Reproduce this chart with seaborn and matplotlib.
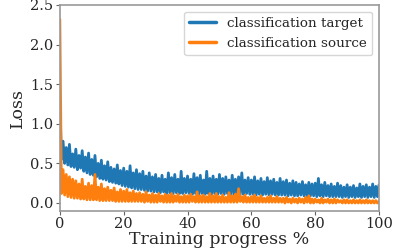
import matplotlib
matplotlib.use("Agg")
import matplotlib.pyplot as plt
import numpy as np
import pandas as pd
import seaborn as sns

# loss values, one every 0.5 % of training
target_loss = [
    1.30, 0.55, 0.78, 0.50, 0.70, 0.48, 0.74, 0.46, 0.62, 0.45,
    0.68, 0.42, 0.60, 0.44, 0.66, 0.40, 0.58, 0.38, 0.63, 0.36,
    0.55, 0.35, 0.60, 0.33, 0.50, 0.31, 0.54, 0.30, 0.47, 0.29,
    0.52, 0.27, 0.45, 0.26, 0.43, 0.25, 0.48, 0.24, 0.41, 0.22,
    0.44, 0.21, 0.40, 0.20, 0.47, 0.19, 0.38, 0.18, 0.42, 0.17,
    0.37, 0.17, 0.40, 0.16, 0.34, 0.15, 0.38, 0.15, 0.33, 0.14,
    0.36, 0.14, 0.31, 0.13, 0.35, 0.14, 0.30, 0.12, 0.38, 0.13,
    0.32, 0.12, 0.36, 0.13, 0.30, 0.12, 0.40, 0.12, 0.31, 0.13,
    0.34, 0.12, 0.30, 0.11, 0.37, 0.12, 0.32, 0.11, 0.35, 0.12,
    0.29, 0.11, 0.40, 0.12, 0.31, 0.11, 0.34, 0.12, 0.30, 0.11,
    0.36, 0.12, 0.31, 0.11, 0.33, 0.12, 0.29, 0.11, 0.35, 0.11,
    0.30, 0.12, 0.33, 0.11, 0.38, 0.11, 0.29, 0.12, 0.32, 0.11,
    0.29, 0.11, 0.33, 0.10, 0.28, 0.11, 0.31, 0.10, 0.27, 0.11,
    0.32, 0.10, 0.28, 0.11, 0.30, 0.10, 0.26, 0.10, 0.31, 0.10,
    0.27, 0.10, 0.29, 0.09, 0.25, 0.10, 0.28, 0.09, 0.26, 0.09,
    0.24, 0.10, 0.27, 0.09, 0.23, 0.09, 0.26, 0.09, 0.24, 0.09,
    0.25, 0.08, 0.31, 0.09, 0.23, 0.08, 0.26, 0.09, 0.22, 0.08,
    0.24, 0.08, 0.21, 0.08, 0.25, 0.08, 0.22, 0.07, 0.20, 0.08,
    0.23, 0.07, 0.20, 0.08, 0.22, 0.07, 0.19, 0.08, 0.24, 0.07,
    0.21, 0.08, 0.23, 0.07, 0.20, 0.08, 0.24, 0.07, 0.21, 0.08,
    0.23,
]

source_loss = [
    2.32, 0.12, 0.42, 0.10, 0.36, 0.08, 0.33, 0.07, 0.30, 0.06,
    0.28, 0.06, 0.24, 0.05, 0.30, 0.05, 0.21, 0.04, 0.25, 0.04,
    0.22, 0.04, 0.36, 0.04, 0.20, 0.03, 0.24, 0.03, 0.18, 0.03,
    0.20, 0.03, 0.16, 0.03, 0.19, 0.02, 0.14, 0.02, 0.17, 0.02,
    0.15, 0.02, 0.17, 0.02, 0.13, 0.02, 0.15, 0.02, 0.12, 0.02,
    0.13, 0.02, 0.11, 0.01, 0.14, 0.02, 0.10, 0.01, 0.12, 0.01,
    0.10, 0.01, 0.12, 0.02, 0.09, 0.01, 0.11, 0.01, 0.10, 0.01,
    0.12, 0.01, 0.09, 0.02, 0.11, 0.01, 0.08, 0.01, 0.10, 0.01,
    0.09, 0.01, 0.11, 0.02, 0.08, 0.01, 0.14, 0.01, 0.09, 0.01,
    0.10, 0.01, 0.08, 0.01, 0.12, 0.01, 0.09, 0.01, 0.12, 0.01,
    0.08, 0.01, 0.10, 0.01, 0.07, 0.01, 0.13, 0.01, 0.09, 0.01,
    0.11, 0.01, 0.18, 0.02, 0.08, 0.01, 0.10, 0.01, 0.07, 0.01,
    0.08, 0.01, 0.10, 0.01, 0.07, 0.01, 0.09, 0.01, 0.06, 0.01,
    0.07, 0.01, 0.09, 0.01, 0.06, 0.01, 0.08, 0.01, 0.06, 0.01,
    0.06, 0.00, 0.07, 0.01, 0.05, 0.00, 0.06, 0.01, 0.05, 0.00,
    0.06, 0.01, 0.05, 0.00, 0.07, 0.01, 0.09, 0.00, 0.05, 0.00,
    0.05, 0.01, 0.04, 0.00, 0.06, 0.00, 0.04, 0.01, 0.05, 0.00,
    0.04, 0.00, 0.05, 0.00, 0.04, 0.01, 0.03, 0.00, 0.04, 0.00,
    0.04, 0.00, 0.03, 0.00, 0.04, 0.00, 0.03, 0.00, 0.04, 0.00,
    0.03, 0.00, 0.04, 0.00, 0.03, 0.00, 0.03, 0.00, 0.03, 0.00,
    0.02,
]

progress = np.linspace(0, 100, len(target_loss))

df = pd.DataFrame({
    'progress': np.concatenate([progress, progress]),
    'loss': target_loss + source_loss,
    'series': ['classification target'] * len(target_loss)
              + ['classification source'] * len(source_loss),
})

sns.set_style('ticks', {'axes.edgecolor': '0.6', 'xtick.color': '0.15',
                        'ytick.color': '0.15'})
plt.rcParams['font.family'] = ['DejaVu Serif']

fig = plt.figure(figsize=(3.99, 2.49), dpi=100)
ax = fig.add_axes([0.150, 0.153, 0.800, 0.827])

sns.lineplot(data=df, x='progress', y='loss', hue='series',
             palette=['#1f77b4', '#ff7f0e'], linewidth=2.0, ax=ax)

ax.set_xlim(0, 100)
ax.set_ylim(-0.1, 2.5)
ax.set_xticks([0, 20, 40, 60, 80, 100])
ax.set_yticks([0.0, 0.5, 1.0, 1.5, 2.0, 2.5])
ax.tick_params(labelsize=10.5, length=3, pad=1.5, color='0.4')
ax.set_xlabel('Training progress %', fontsize=12.5, labelpad=0)
ax.set_ylabel('Loss', fontsize=12.5, labelpad=3)
for s in ax.spines.values():
    s.set_linewidth(1.2)

leg = ax.legend(loc='upper right', fontsize=9.7, handlelength=2.0,
                borderaxespad=0.5, frameon=True)
for line in leg.get_lines():
    line.set_linewidth(2.5)

plt.savefig('out.png', dpi=100)
